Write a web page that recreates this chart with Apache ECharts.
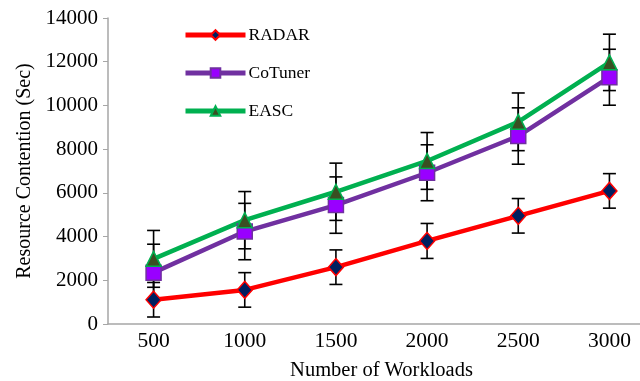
<!DOCTYPE html>
<html><head><meta charset="utf-8">
<script src="https://cdn.jsdelivr.net/npm/echarts@6/dist/echarts.min.js"></script>
<style>html,body{margin:0;padding:0;background:#fff}#c{width:640px;height:381px}</style>
</head><body><div id="c"></div>
<script>
const categories = ['500','1000','1500','2000','2500','3000'];
const radar = [1110, 1560, 2600, 3800, 4950, 6090];
const cotuner = [2350, 4230, 5440, 6920, 8600, 11290];
const easc = [2980, 4750, 6050, 7460, 9250, 11970];
const radarErr = [790, 790, 790, 800, 790, 790];
const cotunerErr = [1300, 1290, 1290, 1280, 1290, 1280];
const eascErr = [1300, 1310, 1310, 1300, 1320, 1290];
const yTicks = [0, 2000, 4000, 6000, 8000, 10000, 12000, 14000];

const FONT = 'Liberation Serif';
function errData(vals, errs){ return vals.map((v,i)=>[i, v-errs[i], v+errs[i]]); }
function errSeries(vals, errs){
  return {
    type:'custom', z:1, silent:true,
    data: errData(vals, errs),
    renderItem: function(params, api){
      const lo = api.coord([api.value(0), api.value(1)]);
      const hi = api.coord([api.value(0), api.value(2)]);
      const hw = 6.5;
      const st = {stroke:'#000', lineWidth:1.6};
      return {type:'group', children:[
        {type:'line', shape:{x1:lo[0],y1:lo[1],x2:hi[0],y2:hi[1]}, style:st},
        {type:'line', shape:{x1:lo[0]-hw,y1:lo[1],x2:lo[0]+hw,y2:lo[1]}, style:st},
        {type:'line', shape:{x1:hi[0]-hw,y1:hi[1],x2:hi[0]+hw,y2:hi[1]}, style:st}
      ]};
    }
  };
}
const chart = echarts.init(document.getElementById('c'));
chart.setOption({
  animation:false,
  textStyle:{fontFamily:FONT},
  grid:{left:108, top:18, width:547, height:306, containLabel:false, outerBoundsMode:'none'},
  legend:{
    orient:'vertical', left:183, top:26, padding:0, itemWidth:60, itemHeight:12, itemGap:20,
    lineStyle:{width:5},
    textStyle:{fontFamily:FONT, fontSize:17.5, color:'#000', padding:[0,0,0,-2]},
    data:['RADAR','CoTuner','EASC']
  },
  xAxis:{
    type:'category', data:categories, boundaryGap:true,
    axisLine:{lineStyle:{color:'#A6A6A6', width:1.5}},
    axisTick:{show:false},
    axisLabel:{fontFamily:FONT, fontSize:21.5, color:'#000', margin:6},
    name:'Number of Workloads', nameLocation:'middle', nameGap:36,
    nameTextStyle:{fontFamily:FONT, fontSize:20.5, color:'#000'}
  },
  yAxis:{
    type:'value', min:yTicks[0], max:yTicks[yTicks.length-1], interval:2000,
    splitLine:{show:false},
    axisLine:{show:true, lineStyle:{color:'#A6A6A6', width:1.5}},
    axisTick:{show:true, length:5, lineStyle:{color:'#A6A6A6'}},
    axisLabel:{fontFamily:FONT, fontSize:21, color:'#000', margin:10, formatter: v => String(v)},
    name:'Resource Contention (Sec)', nameLocation:'middle', nameGap:72,
    nameTextStyle:{fontFamily:FONT, fontSize:20, color:'#000'}
  },
  series:[
    errSeries(radar, radarErr),
    errSeries(cotuner, cotunerErr),
    errSeries(easc, eascErr),
    {name:'RADAR', type:'line', data:radar, z:3, symbol:'diamond', symbolSize:[15,17],
     lineStyle:{color:'#FF0000', width:4.5}, itemStyle:{color:'#002060', borderColor:'#FF0000', borderWidth:1.5}},
    {name:'CoTuner', type:'line', data:cotuner, z:3, symbol:'rect', symbolSize:15,
     lineStyle:{color:'#7030A0', width:4.5}, itemStyle:{color:'#9900FF', borderColor:'#7030A0', borderWidth:1.5}},
    {name:'EASC', type:'line', data:easc, z:3, symbol:'triangle', symbolSize:[15,15],
     lineStyle:{color:'#00B050', width:4.5}, itemStyle:{color:'#3A4F22', borderColor:'#00B050', borderWidth:1.5}}
  ]
});
</script></body></html>
